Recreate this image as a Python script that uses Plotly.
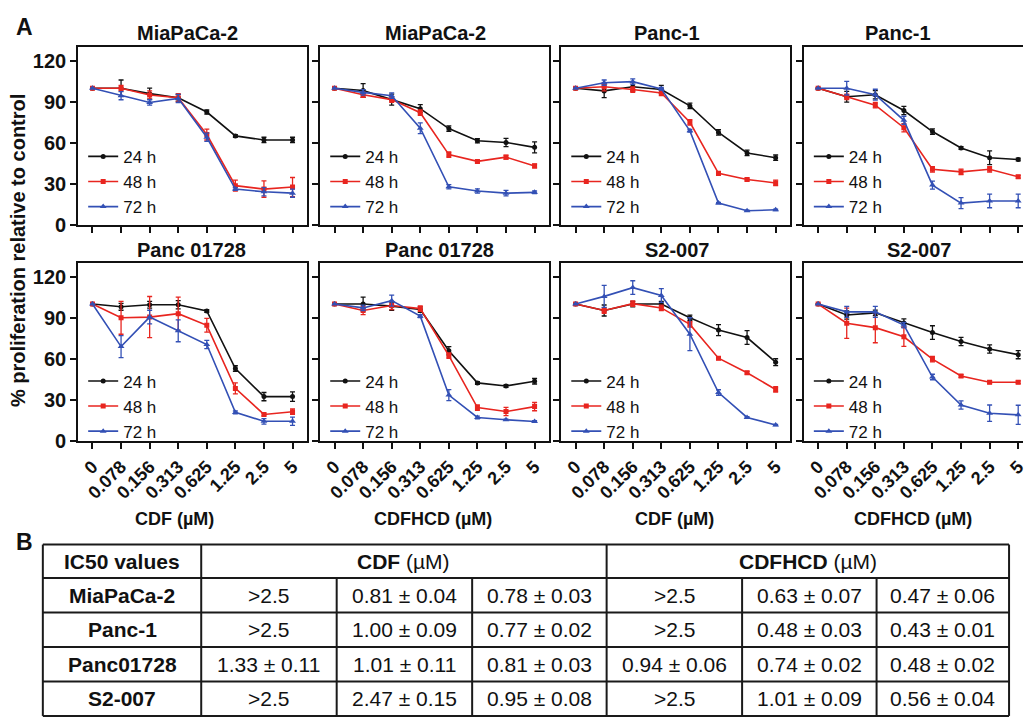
import plotly.graph_objects as go

# ---------------- data ----------------
conc = ["0", "0.078", "0.156", "0.313", "0.625", "1.25", "2.5", "5"]
times = ["24 h", "48 h", "72 h"]

panel_titles = ["MiaPaCa-2", "MiaPaCa-2", "Panc-1", "Panc-1",
                "Panc 01728", "Panc 01728", "S2-007", "S2-007"]
drug_labels = ["CDF (µM)", "CDFHCD (µM)", "CDF (µM)", "CDFHCD (µM)"]

# mean % proliferation per panel: [24 h, 48 h, 72 h]
mia_cdf = [[100, 100, 96, 93, 82.5, 65, 62, 62],
           [100, 100, 95, 93, 66, 28.5, 26, 27.5],
           [100, 94.5, 89.5, 92.5, 64, 26, 24, 23]]
mia_cdf_err = [[0, 6, 4, 2.5, 1.5, 1, 2, 2],
               [0, 2, 3, 3, 4, 4, 6, 7],
               [0, 3, 2, 3, 3, 1, 3, 3]]
mia_hcd = [[100, 98.3, 91.6, 85, 70.4, 61.4, 60.2, 56.6],
           [100, 95.2, 91.6, 82, 51.3, 46.3, 49.4, 43],
           [100, 96.9, 94.5, 70.6, 27.7, 24.6, 23, 23.6]]
mia_hcd_err = [[0, 5, 4, 3, 2, 1.5, 3, 4],
               [0, 2, 2, 2, 2, 1, 1.5, 1.5],
               [0, 2, 2, 4, 1.5, 1.5, 2, 1]]
panc1_cdf = [[100, 98, 101, 99, 87, 67.5, 52.5, 49],
             [100, 101, 99, 96.5, 75, 37.5, 33, 30.5],
             [100, 104, 104.8, 99.5, 68.7, 15.7, 10.1, 10.8]]
panc1_cdf_err = [[0, 5, 3, 3, 2, 2, 2, 2],
                 [0, 3, 2, 2, 2, 1.5, 1, 2],
                 [0, 2, 2, 1, 1, 0.5, 0.5, 0.5]]
panc1_hcd = [[100, 93.7, 95.2, 83.6, 68.2, 56.1, 49, 47.7],
             [100, 93.7, 87.5, 71, 40.5, 38.6, 40.5, 35],
             [100, 100, 95.2, 76.4, 28.9, 15.7, 17.3, 17.3]]
panc1_hcd_err = [[0, 4, 3, 3, 2, 1, 5, 1],
                 [0, 2, 2, 3, 2, 2, 2, 1],
                 [0, 5, 4, 3, 3, 4, 5, 5]]
p01728_cdf = [[100, 98, 99.5, 99.5, 95, 53, 32.5, 32.5],
              [100, 90, 90.5, 93, 84.5, 38.5, 19.5, 21.5],
              [100, 69, 90.5, 80.5, 70.5, 21, 14.5, 14.5]]
p01728_cdf_err = [[0, 2.5, 2.5, 3, 1, 2, 3, 3.5],
                  [0, 12, 15, 12, 5, 4, 1, 2],
                  [0, 8, 5, 8, 3, 1, 2, 3]]
p01728_hcd = [[100, 100, 98.5, 96, 66, 42.5, 40.3, 43.7],
              [100, 95.3, 98.9, 96.7, 62.4, 24.5, 21.6, 25.2],
              [100, 97.2, 102.5, 91.2, 33.6, 17.3, 15.6, 14.4]]
p01728_hcd_err = [[0, 5, 3, 2, 3, 1, 1, 2],
                  [0, 3, 3, 2, 2, 2, 3, 3],
                  [0, 2, 4, 1, 4, 1, 0.5, 0.5]]
s2_cdf = [[100, 95.3, 100, 100, 90, 81, 75.6, 57.6],
          [100, 95.3, 100.3, 97.2, 85.2, 60.5, 49.9, 37.7],
          [100, 105.6, 112, 106.3, 78, 35.5, 17.3, 11.8]]
s2_cdf_err = [[0, 4, 2, 2, 2, 4, 5, 2.5],
              [0, 2, 2, 2, 2, 1, 1, 2],
              [0, 8, 5, 5, 12, 2, 0.5, 0.5]]
s2_hcd = [[100, 92, 93.6, 86.2, 79.2, 72.7, 67.2, 63.1],
          [100, 86, 82.8, 76.1, 59.8, 47.5, 43, 43],
          [100, 94.3, 94.3, 84.7, 46.8, 26.4, 20.4, 19.2]]
s2_hcd_err = [[0, 3, 2, 3, 5, 3, 3, 3],
              [0, 11, 11, 7, 2, 1, 1, 1],
              [0, 4, 4, 2, 2, 3, 6, 7]]

panel_means = [mia_cdf, mia_hcd, panc1_cdf, panc1_hcd,
               p01728_cdf, p01728_hcd, s2_cdf, s2_hcd]
panel_errs = [mia_cdf_err, mia_hcd_err, panc1_cdf_err, panc1_hcd_err,
              p01728_cdf_err, p01728_hcd_err, s2_cdf_err, s2_hcd_err]

# IC50 table
table_header = ["IC50 values", "CDF", "CDFHCD"]
cell_lines = ["MiaPaCa-2", "Panc-1", "Panc01728", "S2-007"]
cdf_ic50 = [[">2.5", "0.81 ± 0.04", "0.78 ± 0.03"],
            [">2.5", "1.00 ± 0.09", "0.77 ± 0.02"],
            ["1.33 ± 0.11", "1.01 ± 0.11", "0.81 ± 0.03"],
            [">2.5", "2.47 ± 0.15", "0.95 ± 0.08"]]
cdfhcd_ic50 = [[">2.5", "0.63 ± 0.07", "0.47 ± 0.06"],
               [">2.5", "0.48 ± 0.03", "0.43 ± 0.01"],
               ["0.94 ± 0.06", "0.74 ± 0.02", "0.48 ± 0.02"],
               [">2.5", "1.01 ± 0.09", "0.56 ± 0.04"]]

# ---------------- styling / layout ----------------
W, H = 1027, 722
FONT = "Liberation Sans, Arial, Helvetica, sans-serif"
colors = ["#111111", "#e8251f", "#3350b5"]
symbols = ["circle", "square", "triangle-up"]
msizes = [5, 5, 6]

frame_left = [78.5, 321.5, 563.5, 807]
unit = 28.69  # px per category step
row_top = [48, 267]
row_bot = [228, 448]
title_x = [188, 437, 670, 902]
title_x2 = [192, 441, 680, 923]
title_y = [34, 254]
legend_top = [141, 369]


def px(x):
    return x / W


def py(y):
    return 1 - y / H


fig = go.Figure()
layout = dict(
    width=W, height=H, margin=dict(l=0, r=0, t=0, b=0),
    paper_bgcolor="white", plot_bgcolor="white",
    font=dict(family=FONT, color="#111111"),
    showlegend=True,
)
annotations = []
shapes = []

for p in range(8):
    r, c = divmod(p, 4)
    ax = "" if p == 0 else str(p + 1)
    xl = frame_left[c]
    xr = min(xl + 8 * unit, W)
    xmax = -0.5 + (xr - xl) / unit
    leg = "legend" if p == 0 else "legend%d" % (p + 1)
    for k in range(3):
        fig.add_trace(go.Scatter(
            x=conc, y=panel_means[p][k],
            error_y=dict(type="data", array=panel_errs[p][k], visible=True,
                         color=colors[k], thickness=1.3, width=2.5),
            mode="lines+markers", name=times[k],
            line=dict(color=colors[k], width=1.6),
            marker=dict(color=colors[k], symbol=symbols[k], size=msizes[k]),
            xaxis="x" + ax, yaxis="y" + ax, legend=leg,
        ))
    layout["xaxis" + ax] = dict(
        domain=[px(xl), px(xr)], anchor="y" + ax, type="category",
        range=[-0.5, xmax], showgrid=False, zeroline=False,
        showline=True, linecolor="#111111", linewidth=2, mirror=True,
        ticks="outside", ticklen=6, tickwidth=1.5, tickcolor="#111111",
        tickangle=-45, tickfont=dict(size=18, family=FONT, weight="bold"),
        tickvals=conc, ticktext=conc, showticklabels=(r == 1),
    )
    layout["yaxis" + ax] = dict(
        domain=[py(row_bot[r]), py(row_top[r])], anchor="x" + ax,
        range=[0, 130], showgrid=False, zeroline=False,
        showline=True, linecolor="#111111", linewidth=2, mirror=(c != 3),
        ticks="outside", ticklen=6, tickwidth=1.5, tickcolor="#111111",
        tickvals=[0, 30, 60, 90, 120], showticklabels=(c == 0),
        tickfont=dict(size=20, family=FONT, weight="bold"),
    )
    layout[leg] = dict(
        x=px(xl + 5), y=py(legend_top[r]), xanchor="left", yanchor="top",
        bgcolor="rgba(0,0,0,0)", borderwidth=0, tracegroupgap=0,
        font=dict(size=17, family=FONT, color="#111111"),
    )
    tx = title_x[c] if r == 0 else title_x2[c]
    annotations.append(dict(
        text="<b>%s</b>" % panel_titles[p], x=px(tx), y=py(title_y[r]),
        xref="paper", yref="paper", showarrow=False,
        xanchor="center", yanchor="middle",
        font=dict(size=20, family=FONT, color="#111111")))

# x axis titles
drug_x = [175, 435, 677, 917]
for c in range(4):
    annotations.append(dict(
        text="<b>%s</b>" % drug_labels[c], x=px(drug_x[c]), y=py(527),
        xref="paper", yref="paper", showarrow=False,
        xanchor="center", yanchor="middle",
        font=dict(size=18, family=FONT, color="#111111")))

# y axis title
annotations.append(dict(
    text="<b>% proliferation relative to control</b>", x=px(18), y=py(254),
    xref="paper", yref="paper", showarrow=False, textangle=-90,
    xanchor="center", yanchor="middle",
    font=dict(size=20, family=FONT, color="#111111")))

# panel letters
for letter, (lx, ly) in [("A", (25, 27)), ("B", (25, 550))]:
    annotations.append(dict(
        text="<b>%s</b>" % letter, x=px(lx), y=py(ly),
        xref="paper", yref="paper", showarrow=False,
        xanchor="center", yanchor="middle",
        font=dict(size=23, family=FONT, color="#111111")))

# ---------------- table B ----------------
col_edges = [43, 202, 338, 474, 609, 745, 880, 1013]
row_edges = [553, 587, 622, 657, 692, 727]
lc = "#1a1a1a"


def line(x0, y0, x1, y1, w=2):
    shapes.append(dict(type="line", xref="paper", yref="paper",
                       x0=px(x0), y0=py(y0), x1=px(x1), y1=py(y1),
                       line=dict(color=lc, width=w)))


for y in row_edges:
    line(col_edges[0], y, col_edges[-1], y, 2)
for i, x in enumerate(col_edges):
    if i in (0, 1, 4, 7):
        line(x, row_edges[0], x, row_edges[-1], 2)
    else:
        line(x, row_edges[1], x, row_edges[-1], 2)

TF = 21


def cell_text(txt, x, y, bold=False):
    annotations.append(dict(
        text=("<b>%s</b>" % txt) if bold else txt, x=px(x), y=py(y),
        xref="paper", yref="paper", showarrow=False,
        xanchor="center", yanchor="middle",
        font=dict(size=TF, family=FONT, color="#111111")))


hy = (row_edges[0] + row_edges[1]) / 2
cell_text(table_header[0], (col_edges[0] + col_edges[1]) / 2, hy, bold=True)
cell_text("<b>%s</b> (µM)" % table_header[1], (col_edges[1] + col_edges[4]) / 2, hy)
cell_text("<b>%s</b> (µM)" % table_header[2], (col_edges[4] + col_edges[7]) / 2, hy)
for i, name in enumerate(cell_lines):
    cy = (row_edges[i + 1] + row_edges[i + 2]) / 2
    cell_text(name, (col_edges[0] + col_edges[1]) / 2, cy, bold=True)
    vals = cdf_ic50[i] + cdfhcd_ic50[i]
    for j, v in enumerate(vals):
        cell_text(v, (col_edges[j + 1] + col_edges[j + 2]) / 2, cy)

layout["annotations"] = annotations
layout["shapes"] = shapes
fig.update_layout(**layout)
fig.write_html(
    "out.html",
    config={"displayModeBar": False},
    post_script="document.body.style.margin='0px';"
                "document.body.style.overflow='hidden';",
)
